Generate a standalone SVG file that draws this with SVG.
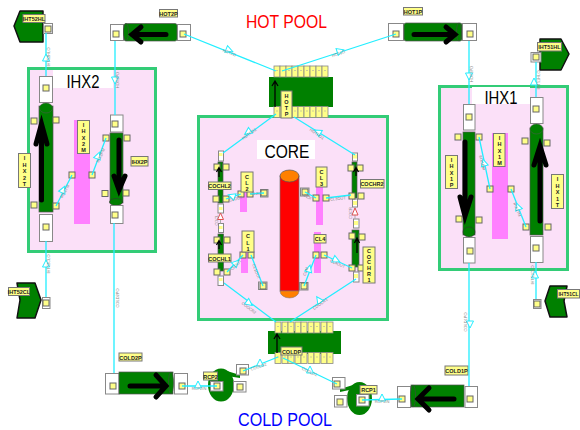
<svg xmlns="http://www.w3.org/2000/svg" xmlns:xlink="http://www.w3.org/1999/xlink" width="580" height="430" viewBox="0 0 580 430">
<style>
text{font-family:"Liberation Sans",Arial,sans-serif}
.fr{fill:#fbe0f8;stroke:#33cc77;stroke-width:3}
.wb{fill:#fff}
.pk{fill:#ff80ff}
.big{font-size:18px;fill:#000;text-anchor:middle}
.w{fill:#fff;stroke:#888;stroke-width:1}
.g{fill:#008000;stroke:#555;stroke-width:.7}
.gb{fill:#008000;stroke:#111;stroke-width:1.5;stroke-linejoin:round}
.l{fill:#ffff88;stroke:#777;stroke-width:1}
.lt{font-size:5.500px;fill:#222;text-anchor:middle;font-weight:bold}
.a{fill:none;stroke:#000;stroke-width:5;stroke-linecap:round;stroke-linejoin:miter}
.a2{fill:none;stroke:#000;stroke-width:1.3}
.c{fill:none;stroke:#22eeff;stroke-width:1.3}
.t{fill:#fff;stroke:#22eeff;stroke-width:1}
.r{fill:#fff;stroke:#e05050;stroke-width:1}
.rl{fill:none;stroke:#aaa;stroke-width:1}
.tiny{font-size:4px;fill:#888;text-anchor:middle}
</style>
<defs>
<g id="p"><rect x="-3" y="-3" width="6" height="6" fill="#ffff88" stroke="#666" stroke-width="1"/></g>
<polygon id="t" class="t" points="0,-4 3.500,3 -3.500,3"/>
<g id="hp"><rect x="-3" y="-5.500" width="6" height="11" fill="#ffff88" stroke="#888" stroke-width=".8"/><path d="M-1-1H1" stroke="#aaa" stroke-width=".6"/></g>
</defs>

<g id="frames">
<rect class="fr" x="28.500" y="68.500" width="127" height="183"/>
<rect class="wb" x="53" y="70" width="60" height="18"/>
<text class="big" x="83" y="88" textLength="33" lengthAdjust="spacingAndGlyphs">IHX2</text>
<rect class="fr" x="198.500" y="116.500" width="189" height="203"/>
<rect class="wb" x="257" y="140" width="58" height="19"/>
<text class="big" x="287" y="158" textLength="45" lengthAdjust="spacingAndGlyphs">CORE</text>
<rect class="fr" x="439.500" y="86.500" width="128" height="183"/>
<rect class="wb" x="472" y="87" width="58" height="17"/>
<text class="big" x="501" y="104" textLength="33" lengthAdjust="spacingAndGlyphs">IHX1</text>
<text x="246" y="28" font-size="18" fill="#ff0000" textLength="81" lengthAdjust="spacingAndGlyphs">HOT POOL</text>
<text x="238" y="426" font-size="18" fill="#0000ff" textLength="94" lengthAdjust="spacingAndGlyphs">COLD POOL</text>
</g>

<g id="IHT52HL">
<polygon class="gb" points="14,26 20,11 43,11 43,42 20,42"/>
<rect class="w" x="43.500" y="23.500" width="9" height="10" fill="#ddd"/><use href="#p" x="48" y="29"/>
<rect class="l" x="23" y="14.500" width="22" height="8"/><text class="lt" x="34" y="20.500">IHT52HL</text>
</g>
<g id="IHT52CL">
<polygon class="gb" points="17,283 35,283 41,300 35,318 17,318 20,300"/>
<rect class="w" x="42.500" y="297.500" width="7.500" height="11"/><use href="#p" x="46" y="303"/>
<rect class="l" x="8.500" y="287.500" width="21" height="8"/><text class="lt" x="19" y="293.500">IHT52CL</text>
</g>
<g id="IHT51HL">
<polygon class="gb" points="540,39 561,39 569,54 561,70 540,70"/>
<rect class="w" x="531" y="52.500" width="10" height="9.500"/><use href="#p" x="536" y="57"/>
<rect class="l" x="537.500" y="42.500" width="24" height="8.500"/><text class="lt" x="549.500" y="49">IHT51HL</text>
</g>
<g id="IHT51CL">
<polygon class="gb" points="550,286 567,286 564,301 567,317 550,317 545,301"/>
<rect class="w" x="533.500" y="299.500" width="7.500" height="9"/><use href="#p" x="537" y="304"/>
<rect class="l" x="557.500" y="289.500" width="22" height="8.500"/><text class="lt" x="568.500" y="296" textLength="20" lengthAdjust="spacingAndGlyphs">IHT51CL</text>
</g>

<g id="HOT2P">
<rect class="w" x="110.500" y="24.500" width="13" height="16"/><use href="#p" x="116" y="34"/>
<rect class="g" x="124" y="23.500" width="53" height="17.500" rx="2"/><ellipse cx="126" cy="32" rx="2.500" ry="8.500" fill="#008000" stroke="#444" stroke-width=".6"/>
<rect class="w" x="177.500" y="24.500" width="13" height="16"/><use href="#p" x="183" y="34"/>
<path class="a" d="M166 34.500H132M141 27L132 34.500L141 42"/>
<rect class="l" x="159.500" y="9.500" width="18" height="7.500"/><text class="lt" x="168.500" y="15.500">HOT2P</text>
</g>
<g id="HOT1P">
<rect class="w" x="388.500" y="23.500" width="15" height="17"/><use href="#p" x="396" y="34"/>
<rect class="g" x="404" y="23" width="58" height="18" rx="2"/><ellipse cx="459" cy="32" rx="2.500" ry="9" fill="#008000" stroke="#444" stroke-width=".6"/>
<rect class="w" x="462.500" y="23.500" width="14" height="17"/><use href="#p" x="470" y="34"/>
<path class="a" d="M414 34.500H455M446 27L455 34.500L446 42"/>
<rect class="l" x="403.500" y="7.500" width="19" height="7.500"/><text class="lt" x="413" y="13.500">HOT1P</text>
</g>

<g id="IHX2T">
<rect class="w" x="39.500" y="76.500" width="13" height="26"/><use href="#p" x="46" y="88"/>
<rect class="g" x="39" y="106" width="14" height="106"/><ellipse cx="46" cy="108" rx="6.500" ry="5" fill="#008000" stroke="#555" stroke-width=".5"/>
<rect class="w" x="39.500" y="214.500" width="13" height="27"/><use href="#p" x="46" y="227"/>
<use href="#p" x="34" y="121"/><use href="#p" x="56" y="120"/><use href="#p" x="34" y="205"/><use href="#p" x="56" y="206"/>
<path class="a" d="M41.500 200V126M36 144L41.500 124L47 144"/>
<rect class="l" x="18.500" y="153.500" width="12" height="34"/>
<text class="lt" x="24.500" y="160">I<tspan x="24.500" dy="6.500">H</tspan><tspan x="24.500" dy="6.500">X</tspan><tspan x="24.500" dy="6.500">2</tspan><tspan x="24.500" dy="6.500">T</tspan></text>
</g>
<g id="IHX2M">
<rect class="pk" x="74" y="120" width="16" height="104"/>
<rect class="l" x="77.500" y="120.500" width="12" height="33"/>
<text class="lt" x="83.500" y="127">I<tspan x="83.500" dy="6.300">H</tspan><tspan x="83.500" dy="6.300">X</tspan><tspan x="83.500" dy="6.300">2</tspan><tspan x="83.500" dy="6.300">M</tspan></text>
<use href="#p" x="72" y="175"/><use href="#p" x="92" y="175"/>
</g>
<g id="IHX2P">
<rect class="w" x="110.500" y="115" width="12.500" height="17"/><use href="#p" x="115" y="124"/>
<rect class="g" x="110" y="133" width="13" height="70"/><ellipse cx="116" cy="202" rx="6.500" ry="3.500" fill="#008000" stroke="#333" stroke-width=".6"/>
<rect class="w" x="110.500" y="205.500" width="12.500" height="18"/><use href="#p" x="115" y="215"/>
<use href="#p" x="106" y="138"/><use href="#p" x="127" y="138"/><use href="#p" x="105" y="193.500"/><use href="#p" x="126" y="193"/>
<path class="a" d="M119 140V190M114 176L119 190L125 176"/>
<rect class="l" x="131" y="156.500" width="17" height="9.500"/><text class="lt" x="139.500" y="163.500">IHX2P</text>
</g>

<g id="IHX1P">
<rect class="w" x="463.500" y="104.500" width="11.500" height="25.500"/><use href="#p" x="469" y="117"/>
<rect class="g" x="463" y="132" width="12" height="103"/><ellipse cx="469" cy="232" rx="6" ry="5" fill="#008000" stroke="#333" stroke-width=".6"/>
<rect class="w" x="463.500" y="237.500" width="11.500" height="25.500"/><use href="#p" x="470" y="251"/>
<use href="#p" x="458" y="137"/><use href="#p" x="479" y="137"/><use href="#p" x="459" y="219"/><use href="#p" x="479" y="220"/>
<path class="a" d="M465 142V216M460 197L465 216L471 197"/>
<rect class="l" x="445.500" y="155.500" width="12" height="33"/>
<text class="lt" x="451.500" y="162">I<tspan x="451.500" dy="6.300">H</tspan><tspan x="451.500" dy="6.300">X</tspan><tspan x="451.500" dy="6.300">1</tspan><tspan x="451.500" dy="6.300">P</tspan></text>
</g>
<g id="IHX1M">
<rect class="pk" x="492" y="133" width="16" height="106"/>
<rect class="l" x="493.500" y="133.500" width="11.500" height="33"/>
<text class="lt" x="499.500" y="140">I<tspan x="499.500" dy="6.300">H</tspan><tspan x="499.500" dy="6.300">X</tspan><tspan x="499.500" dy="6.300">1</tspan><tspan x="499.500" dy="6.300">M</tspan></text>
<use href="#p" x="490" y="189"/><use href="#p" x="511" y="189"/>
</g>
<g id="IHX1T">
<rect class="w" x="530.500" y="97.500" width="12.500" height="26"/><use href="#p" x="536" y="109"/>
<rect class="g" x="530" y="128" width="13" height="107"/><ellipse cx="536.500" cy="129" rx="6.500" ry="5" fill="#008000" stroke="#555" stroke-width=".5"/>
<rect class="w" x="530.500" y="236.500" width="12.500" height="26"/><use href="#p" x="536" y="248"/>
<use href="#p" x="525" y="141"/><use href="#p" x="547" y="143"/><use href="#p" x="526" y="227"/><use href="#p" x="548" y="227"/>
<path class="a" d="M540 221V147M534 165L540 146L546 165"/>
<rect class="l" x="551.500" y="174.500" width="12" height="34"/>
<text class="lt" x="557.500" y="181">I<tspan x="557.500" dy="6.500">H</tspan><tspan x="557.500" dy="6.500">X</tspan><tspan x="557.500" dy="6.500">1</tspan><tspan x="557.500" dy="6.500">T</tspan></text>
</g>

<g id="HOTP">
<rect x="269" y="77" width="64" height="30" fill="#008000"/>
<use href="#hp" x="277" y="71.500"/><use href="#hp" x="283" y="71.500"/><use href="#hp" x="289" y="71.500"/><use href="#hp" x="295" y="71.500"/><use href="#hp" x="301" y="71.500"/><use href="#hp" x="307" y="71.500"/><use href="#hp" x="313" y="71.500"/><use href="#hp" x="319" y="71.500"/><use href="#hp" x="325" y="71.500"/>
<use href="#hp" x="277" y="112"/><use href="#hp" x="283" y="112"/><use href="#hp" x="289" y="112"/><use href="#hp" x="295" y="112"/><use href="#hp" x="301" y="112"/><use href="#hp" x="307" y="112"/><use href="#hp" x="313" y="112"/><use href="#hp" x="319" y="112"/><use href="#hp" x="325" y="112"/>
<path class="a2" d="M275 107V81M272 86L275 81L278 86"/>
<rect class="l" x="281" y="91" width="11" height="27"/>
<text class="lt" x="286.500" y="98">H<tspan x="286.500" dy="6">O</tspan><tspan x="286.500" dy="6">T</tspan><tspan x="286.500" dy="6">P</tspan></text>
</g>
<g id="COLDP">
<rect x="268" y="331" width="73" height="23" fill="#008000"/>
<use href="#hp" x="278" y="327.500"/><use href="#hp" x="285" y="327.500"/><use href="#hp" x="291" y="327.500"/><use href="#hp" x="298" y="327.500"/><use href="#hp" x="304" y="327.500"/><use href="#hp" x="311" y="327.500"/><use href="#hp" x="317" y="327.500"/><use href="#hp" x="324" y="327.500"/><use href="#hp" x="330" y="327.500"/>
<use href="#hp" x="278" y="358"/><use href="#hp" x="285" y="358"/><use href="#hp" x="291" y="358"/><use href="#hp" x="298" y="358"/><use href="#hp" x="304" y="358"/><use href="#hp" x="311" y="358"/><use href="#hp" x="317" y="358"/><use href="#hp" x="324" y="358"/><use href="#hp" x="330" y="358"/>
<path class="a2" d="M277 353V334M274 339L277 334L280 339"/>
<rect class="l" x="281" y="347" width="21" height="8"/><text class="lt" x="291.500" y="353.500">COLDP</text>
</g>

<g id="REACTOR">
<rect x="280" y="176" width="19" height="115" fill="#ff0000" stroke="#777" stroke-width=".7"/>
<path d="M280 291A9.500 7 0 0 0 299 291Z" fill="#ff8000" stroke="#777" stroke-width=".5"/>
<ellipse cx="289.500" cy="176" rx="9.500" ry="6" fill="#ff8000" stroke="#555" stroke-width=".7"/>
</g>

<g id="COCHL2">
<rect class="w" x="218.500" y="151" width="5" height="10"/>
<rect class="g" x="218" y="162" width="5" height="41"/>
<rect class="w" x="218" y="204" width="5.500" height="9"/>
<use href="#p" x="217" y="167"/><use href="#p" x="226" y="167"/><use href="#p" x="216" y="199"/><use href="#p" x="226" y="199"/>
<rect x="219" y="153" width="3.500" height="3" fill="#ffff88"/><rect x="219" y="207" width="3.500" height="3" fill="#ffff88"/>
<path class="a2" d="M219 177V168M216.500 172L219 167.500L221.500 172"/>
<rect class="l" x="208.500" y="182" width="22.500" height="7.500"/><text class="lt" x="219.500" y="188">COCHL2</text>
</g>
<g id="COCHL1">
<rect class="w" x="218.500" y="223.500" width="5" height="9"/>
<rect class="g" x="218" y="234" width="5.500" height="37"/>
<rect class="w" x="218" y="276" width="5.500" height="9.500"/>
<use href="#p" x="217" y="240"/><use href="#p" x="227" y="240"/><use href="#p" x="217" y="272"/><use href="#p" x="227" y="272"/>
<rect x="219" y="226" width="3.500" height="3" fill="#ffff88"/><rect x="219" y="278" width="3.500" height="3" fill="#ffff88"/>
<path class="a2" d="M219 249V241M216.500 245L219 240.500L221.500 245"/>
<rect class="l" x="208.500" y="254" width="22.500" height="8"/><text class="lt" x="219.500" y="260.500">COCHL1</text>
</g>
<g id="CL2">
<rect class="pk" x="240" y="191" width="7" height="21"/>
<use href="#p" x="241" y="194"/><use href="#p" x="250" y="194"/>
<rect class="l" x="241" y="172" width="12" height="20"/>
<text class="lt" x="247" y="179">C<tspan x="247" dy="6">L</tspan><tspan x="247" dy="6">2</tspan></text>
<rect class="w" x="260.500" y="189.500" width="7.500" height="7.500" fill="#ddd"/><use href="#p" x="264" y="193"/>
</g>
<g id="CL1">
<rect class="pk" x="241" y="251" width="7" height="22"/>
<use href="#p" x="243" y="255"/><use href="#p" x="251" y="255"/>
<rect class="l" x="242" y="231" width="12" height="21"/>
<text class="lt" x="248" y="238">C<tspan x="248" dy="6.500">L</tspan><tspan x="248" dy="6.500">1</tspan></text>
<rect class="w" x="258.500" y="282" width="8.500" height="7.500"/><use href="#p" x="263" y="286"/>
</g>
<g id="CL3">
<rect class="pk" x="316" y="187" width="7" height="38"/>
<use href="#p" x="316" y="198"/><use href="#p" x="326" y="198"/>
<rect class="l" x="316" y="167" width="11" height="20"/>
<text class="lt" x="321.500" y="174">C<tspan x="321.500" dy="6">L</tspan><tspan x="321.500" dy="6">3</tspan></text>
<rect class="w" x="300.500" y="188" width="8.500" height="8"/><use href="#p" x="305" y="192"/>
</g>
<g id="CL4">
<rect class="pk" x="314" y="232" width="7" height="41"/>
<use href="#p" x="316" y="255"/><use href="#p" x="324" y="255"/>
<rect class="l" x="314" y="234.500" width="12" height="8.500"/><text class="lt" x="320" y="241">CL4</text>
<rect class="w" x="299.500" y="282.500" width="8.500" height="7.500"/><use href="#p" x="304" y="286"/>
</g>
<g id="COCHR2">
<rect class="w" x="352.500" y="153" width="5" height="8"/>
<rect class="g" x="352" y="162" width="5" height="36"/>
<rect class="w" x="352.500" y="199" width="5" height="8"/>
<use href="#p" x="351" y="168"/><use href="#p" x="360" y="168"/><use href="#p" x="352" y="196"/><use href="#p" x="361" y="196"/>
<rect x="353" y="154.500" width="4" height="4" fill="#ffff88"/><rect x="353" y="201" width="4" height="4" fill="#ffff88"/>
<path class="a2" d="M356 176V168.500M353.500 172L356 167.500L358.500 172"/>
<rect class="l" x="360.500" y="179.500" width="23.500" height="8.500"/><text class="lt" x="372" y="186">COCHR2</text>
</g>
<g id="COCHR1">
<rect class="w" x="353.500" y="219" width="5.500" height="9"/>
<rect class="g" x="352" y="230" width="7" height="37"/>
<rect class="w" x="353.500" y="272" width="5.500" height="10"/>
<use href="#p" x="352" y="236"/><use href="#p" x="362" y="237"/><use href="#p" x="352" y="268"/><use href="#p" x="361" y="268"/>
<rect x="354" y="221" width="4" height="4" fill="#ffff88"/><rect x="354" y="274" width="4" height="4" fill="#ffff88"/>
<path class="a2" d="M357 253V239M354.500 243L357 238L359.500 243"/>
<rect class="l" x="363" y="247" width="12" height="36"/>
<text class="lt" x="369" y="253">C<tspan x="369" dy="5.700">O</tspan><tspan x="369" dy="5.700">C</tspan><tspan x="369" dy="5.700">H</tspan><tspan x="369" dy="5.700">R</tspan><tspan x="369" dy="5.700">1</tspan></text>
</g>

<g id="COLD2P">
<rect class="w" x="105.500" y="373.500" width="13.500" height="20.500"/><use href="#p" x="113" y="386"/>
<rect class="g" x="119" y="372" width="54" height="22"/><ellipse cx="171" cy="383" rx="2.500" ry="11" fill="#008000" stroke="#444" stroke-width=".6"/>
<rect class="w" x="174.500" y="373.500" width="13" height="20.500"/><use href="#p" x="182" y="386"/>
<path class="a" d="M130 386H165M156 375L166 386L156 397"/>
<rect class="l" x="119" y="353" width="23" height="8"/><text class="lt" x="130.500" y="359.500">COLD2P</text>
</g>
<g id="RCP2">
<ellipse cx="221" cy="385" rx="13" ry="16.500" fill="#008000"/>
<polygon points="227,371 240,375 240,378 227,376" fill="#008000"/>
<rect class="w" x="236.500" y="364.500" width="12" height="10.500"/><use href="#p" x="243" y="371"/>
<rect class="w" x="210.500" y="381.500" width="12.500" height="9.500"/><use href="#p" x="217" y="386"/>
<rect class="w" x="233.500" y="381.500" width="12.500" height="10.500"/><use href="#p" x="240" y="387"/>
<rect class="l" x="203.500" y="372" width="14" height="8"/><text class="lt" x="210.500" y="378.500">RCP2</text>
</g>
<g id="RCP1">
<ellipse cx="359.500" cy="398.500" rx="12.500" ry="16.500" fill="#008000"/>
<polygon points="340,389 353,385 354,389 340,392" fill="#008000"/>
<rect class="w" x="332.500" y="377.500" width="12.500" height="11.500"/><use href="#p" x="337" y="384"/>
<rect class="w" x="356.500" y="394.500" width="12.500" height="11.500"/><use href="#p" x="362" y="400"/>
<rect class="w" x="334.500" y="395.500" width="12.500" height="11.500"/><use href="#p" x="340" y="402"/>
<rect class="l" x="360" y="385.500" width="17" height="8.500"/><text class="lt" x="368.500" y="392">RCP1</text>
</g>
<g id="COLD1P">
<rect class="w" x="397.500" y="386.500" width="13" height="21"/><use href="#p" x="402" y="399"/>
<rect class="g" x="411" y="385" width="53" height="22"/><ellipse cx="413" cy="396" rx="2.500" ry="11" fill="#008000" stroke="#444" stroke-width=".6"/>
<rect class="w" x="465" y="386.500" width="12.500" height="21"/><use href="#p" x="470" y="399"/>
<path class="a" d="M454 399H419M429 388L418 399L429 410"/>
<rect class="l" x="445" y="366" width="23" height="9"/><text class="lt" x="456.500" y="373">COLD1P</text>
</g>

<g id="connectors">
<path class="c" d="M46 33V76M115 41V115M46 241V297M114 223V373M469 41V104M536 62V97M536 262V299M469 263V386"/>
<path class="c" d="M184 34L276 71M396 34L282 71M276 114L223 153M294 117L355 155M224 283L276 322M290 322L356 279"/>
<path class="c" d="M56 206L72 175M92 175L106 138M479 137L490 189M511 189L526 227"/>
<path class="c" d="M226 199L241 194M250 194L264 193M227 272L243 255M251 255L263 286M305 192L316 198M326 198L351 195M324 255L352 268M316 255L304 286"/>
<path class="c" d="M182 386H217M243 371L278 357M283 358L337 384M362 400L402 399"/>
<path class="rl" d="M220.500 213V223.500M355 207V219"/>
<use href="#t" transform="translate(46,58)"/>
<use href="#t" transform="translate(115,80) rotate(180)"/>
<use href="#t" transform="translate(46,264)"/>
<use href="#t" transform="translate(469,76) rotate(180)"/>
<use href="#t" transform="translate(534,82)"/>
<use href="#t" transform="translate(535,275)"/>
<use href="#t" transform="translate(470,324) rotate(180)"/>
<use href="#t" transform="translate(229,50) rotate(112)"/>
<use href="#t" transform="translate(340,51) rotate(72)"/>
<use href="#t" transform="translate(248,132) rotate(-125)"/>
<use href="#t" transform="translate(318,132) rotate(-60)"/>
<use href="#t" transform="translate(249,303) rotate(127)"/>
<use href="#t" transform="translate(319,300) rotate(-35)"/>
<use href="#t" transform="translate(63,190) rotate(25)"/>
<use href="#t" transform="translate(98,156) rotate(20)"/>
<use href="#t" transform="translate(484,163) rotate(-15)"/>
<use href="#t" transform="translate(518,207) rotate(-20)"/>
<use href="#t" transform="translate(232,196) rotate(-70)"/>
<use href="#t" transform="translate(236,263) rotate(45)"/>
<use href="#t" transform="translate(309,269) rotate(15)"/>
<use href="#t" transform="translate(336,260) rotate(115)"/>
<use href="#t" transform="translate(198,385)"/>
<use href="#t" transform="translate(260,363)"/>
<use href="#t" transform="translate(310,370)"/>
<use href="#t" transform="translate(382,398)"/>
<polygon class="r" points="220.500,213 223.500,219.500 217.500,219.500"/>
<polygon class="r" points="355,208 358,215 352,215"/>
<text class="tiny" transform="translate(50,57) rotate(-90)">IHT52HLO</text>
<text class="tiny" transform="translate(119,80) rotate(-90)">HOT2PO</text>
<text class="tiny" transform="translate(50,264) rotate(-90)">IHT52CLO</text>
<text class="tiny" transform="translate(119,298) rotate(-90)">COLD2PO</text>
<text class="tiny" transform="translate(473,74) rotate(-90)">HOT1PO</text>
<text class="tiny" transform="translate(540,80) rotate(-90)">IHT51HLO</text>
<text class="tiny" transform="translate(534,275) rotate(-90)">IHT51CLO</text>
<text class="tiny" transform="translate(467,322) rotate(-90)">COLD1PO</text>
<text class="tiny" transform="translate(229,54) rotate(22)">HOT2O</text>
<text class="tiny" transform="translate(339,55) rotate(-20)">HOT1O</text>
<text class="tiny" transform="translate(250,135) rotate(-35)">HOTPO2</text>
<text class="tiny" transform="translate(316,135) rotate(35)">HOTPO1</text>
<text class="tiny" transform="translate(248,309) rotate(37)">COOCR2</text>
<text class="tiny" transform="translate(321,305) rotate(-35)">COOCR1</text>
<text class="tiny" transform="translate(66,192) rotate(-60)">IHX2TM</text>
<text class="tiny" transform="translate(102,156) rotate(-65)">IHX2PM</text>
<text class="tiny" transform="translate(481,163) rotate(75)">IHX1PM</text>
<text class="tiny" transform="translate(516,210) rotate(68)">IHX1TM</text>
<text class="tiny" transform="translate(236,200) rotate(-15)">CLOUT</text>
<text class="tiny" transform="translate(256,195)">CL2O</text>
<text class="tiny" transform="translate(237,266) rotate(-45)">CLOUT</text>
<text class="tiny" transform="translate(255,272) rotate(70)">CL1OUT</text>
<text class="tiny" transform="translate(307,198) rotate(25)">CL3I</text>
<text class="tiny" transform="translate(338,200) rotate(-5)">CL3OUT</text>
<text class="tiny" transform="translate(307,272) rotate(-70)">CL4I</text>
<text class="tiny" transform="translate(337,265) rotate(25)">CL4OUT</text>
<text class="tiny" transform="translate(218,220) rotate(-90)">COCL</text>
<text class="tiny" transform="translate(352,213) rotate(-90)">COCR</text>
<text class="tiny" transform="translate(199,390)">RCP2IN</text>
<text class="tiny" transform="translate(259,368) rotate(-20)">COOLD2</text>
<text class="tiny" transform="translate(309,373) rotate(25)">COOLD1</text>
<text class="tiny" transform="translate(382,403)">RCP1IN</text>
</g>
</svg>
